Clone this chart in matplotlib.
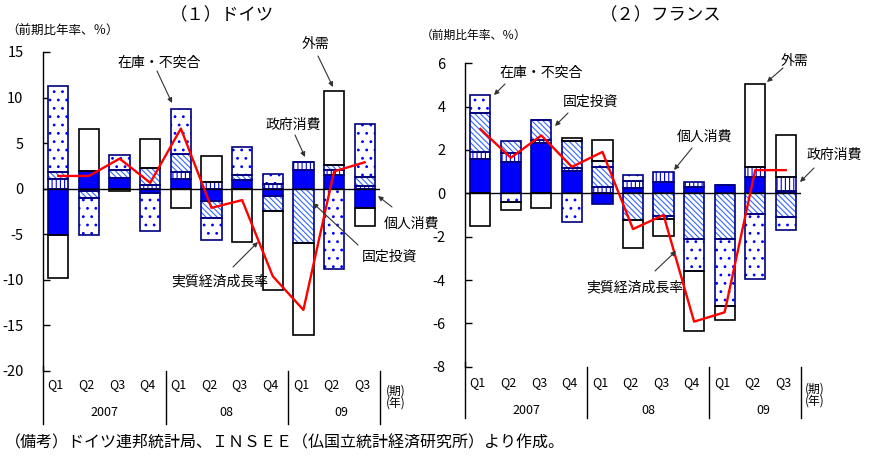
import matplotlib
matplotlib.use("Agg")
import matplotlib.pyplot as plt
import matplotlib.transforms as mtransforms
import numpy as np

plt.rcParams['font.family'] = ['Noto Sans CJK JP', 'DejaVu Sans']
plt.rcParams['axes.unicode_minus'] = False
plt.rcParams['hatch.linewidth'] = 0.8

##### data ######
quarters = ['Q1', 'Q2', 'Q3', 'Q4', 'Q1', 'Q2', 'Q3', 'Q4', 'Q1', 'Q2', 'Q3']
years = ['2007', '08', '09']
year_pos = [2.0, 6.0, 9.75]
dividers = [4, 8, 11]
components = ['個人消費', '政府消費', '固定投資', '在庫・不突合', '外需']

# (1) Germany, contributions (%pt, annualised q/q)
de_private = [-5.1, 1.9, 1.2, -0.5, 1.1, -1.3, 1.0, -0.8, 2.05, 1.55, -2.1]
de_gov = [1.1, -0.3, 0.0, 0.4, 0.7, 0.7, 0.0, 0.55, 0.9, 0.55, 0.25]
de_inv = [0.7, -0.7, 0.85, 1.9, 2.0, -1.9, 0.45, -1.65, -6.0, 0.5, 1.05]
de_stock = [9.5, -4.1, 1.6, -4.1, 4.95, -2.4, 3.15, 1.05, 0.0, -8.8, 5.8]
de_ext = [-4.7, 4.6, -0.3, 3.1, -2.1, 2.9, -5.8, -8.7, -10.1, 8.15, -2.0]
de_gdp = [1.4, 1.4, 3.3, 0.65, 6.6, -2.1, -1.25, -9.6, -13.3, 1.9, 2.9]

# (2) France
fr_private = [1.6, 1.45, 2.3, 1.05, -0.5, 0.25, 0.5, 0.3, 0.38, 0.77, 0.12]
fr_gov = [0.3, 0.4, 0.15, 0.1, 0.27, 0.3, 0.5, 0.22, 0.0, 0.45, 0.65]
fr_inv = [1.8, 0.55, 0.95, 1.25, 0.95, -1.25, -1.05, -2.1, -2.1, -0.97, -1.07]
fr_stock = [0.85, -0.4, 0.0, -1.3, 0.25, 0.28, -0.15, -1.47, -3.1, -3.0, -0.6]
fr_ext = [-1.5, -0.35, -0.7, 0.15, 1.0, -1.25, -0.75, -2.8, -0.65, 3.84, 1.94]
fr_gdp = [2.97, 1.64, 2.67, 1.22, 1.91, -1.65, -1.0, -5.92, -5.49, 1.07, 1.07]
#################

W, H = 872, 462
fig = plt.figure(figsize=(W / 100, H / 100), dpi=100)


def fx(x):
    return x / W


def fy(y):
    return 1 - y / H


# face, hatch, hatch colour, outline colour
styles = [
    ('#0000FF', None, '#0000FF', '#000080'),
    ('white', '||||', '#0000FF', '#000080'),
    ('white', '\\' * 6, '#3366FF', '#000080'),
    ('white', '..', '#0000FF', '#000080'),
    ('white', None, 'white', 'black'),
]


def draw_panel(ax, series, gdp, ylim, yticks):
    x = np.arange(len(quarters)) + 0.5
    pos = np.zeros(len(x))
    neg = np.zeros(len(x))
    for vals, (face, hatch, hcol, ecol) in zip(series, styles):
        v = np.array(vals)
        bottom = np.where(v >= 0, pos, neg)
        ax.bar(x, v, 0.66, bottom=bottom, color=face, edgecolor=hcol,
               hatch=hatch, linewidth=0, zorder=2)
        ax.bar(x, v, 0.66, bottom=bottom, fill=False, edgecolor=ecol,
               linewidth=1.2, zorder=2.5)
        pos = pos + np.where(v >= 0, v, 0)
        neg = neg + np.where(v < 0, v, 0)
    ax.axhline(0, color='black', lw=1, zorder=3)
    ax.plot(x, gdp, color='#FF0000', lw=1.7, zorder=4)
    ax.set_xlim(0, len(quarters))
    ax.set_ylim(*ylim)
    ax.set_yticks(yticks)
    ax.set_xticks([])
    for s in ['top', 'right', 'bottom']:
        ax.spines[s].set_visible(False)
    ax.spines['left'].set_linewidth(1)
    ax.tick_params(axis='y', direction='in', length=5, width=1, labelsize=10.5, pad=14)


def draw_categories(ax, top_px, bottom_px, q_px, year_px):
    tr = mtransforms.blended_transform_factory(ax.transData, fig.transFigure)
    ax.plot([0, 0], [fy(top_px - 5), fy(bottom_px)], transform=tr, color='black',
            lw=1, clip_on=False)
    for d in dividers:
        ax.plot([d, d], [fy(top_px), fy(bottom_px)], transform=tr, color='black',
                lw=1, clip_on=False)
    for i, q in enumerate(quarters):
        ax.text(i + 0.42, fy(q_px), q, transform=tr, ha='center', va='center', fontsize=9)
    for p, yr in zip(year_pos, years):
        ax.text(p, fy(year_px), yr, transform=tr, ha='center', va='center', fontsize=9)


def label(text, xy, start=None, end=None, ha='center'):
    fig.text(fx(xy[0]), fy(xy[1]), text, ha=ha, va='center', fontsize=10)
    if start is not None:
        fig.add_artist(plt.Annotation('', xy=(fx(end[0]), fy(end[1])), xycoords='figure fraction',
                                      xytext=(fx(start[0]), fy(start[1])), textcoords='figure fraction',
                                      arrowprops=dict(arrowstyle='-|>', lw=0.8, color='#333333',
                                                      mutation_scale=7, shrinkA=0, shrinkB=0)))


# Germany
ax1 = fig.add_axes([fx(43), fy(371), (380 - 43) / W, (371 - 52) / H])
draw_panel(ax1, [de_private, de_gov, de_inv, de_stock, de_ext], de_gdp,
           (-20, 15), np.arange(-20, 16, 5))
draw_categories(ax1, 371, 424, 385, 413)

# France
ax2 = fig.add_axes([fx(465), fy(366.7), (801 - 465) / W, (366.7 - 63.3) / H])
draw_panel(ax2, [fr_private, fr_gov, fr_inv, fr_stock, fr_ext], fr_gdp,
           (-8, 6), np.arange(-8, 7, 2))
draw_categories(ax2, 367, 418, 383, 411)

# titles and units
fig.text(fx(170), fy(15), '（１）ドイツ', ha='left', va='center', fontsize=12.5)
fig.text(fx(600), fy(15), '（２）フランス', ha='left', va='center', fontsize=12.5)
fig.text(fx(6), fy(31), '（前期比年率、％）', ha='left', va='center', fontsize=9)
fig.text(fx(421), fy(35), '（前期比年率、％）', ha='left', va='center', fontsize=8.5)
for xp, y1, y2 in [(396, 391, 403), (815, 389, 401.5)]:
    fig.text(fx(xp), fy(y1), '(期)', ha='center', va='center', fontsize=8.5)
    fig.text(fx(xp), fy(y2), '(年)', ha='center', va='center', fontsize=8.5)

# component labels, Germany
label('在庫・不突合', (159, 63), (157, 71), (172, 103))
label('外需', (316, 44), (318, 56), (333, 87))
label('政府消費', (293, 125), (295, 135), (305, 157))
label('個人消費', (412, 224), (392, 207), (378, 196))
label('固定投資', (390, 257), (358, 245), (313, 203))
label('実質経済成長率', (220, 281), (233, 267), (258, 242))

# component labels, France
label('在庫・不突合', (541, 73), (505, 84), (494, 95))
label('固定投資', (591, 102), (568, 113), (555, 126))
label('個人消費', (705, 137), (692, 148), (674, 170))
label('外需', (795, 61), (783, 68), (767, 82))
label('政府消費', (834, 155), (814, 168), (800, 182))
label('実質経済成長率', (635, 287), (655, 271), (676, 251))

fig.text(fx(5), fy(443), '（備考）ドイツ連邦統計局、ＩＮＳＥＥ（仏国立統計経済研究所）より作成。',
         ha='left', va='center', fontsize=11.5)

fig.savefig('out.png', dpi=100)
